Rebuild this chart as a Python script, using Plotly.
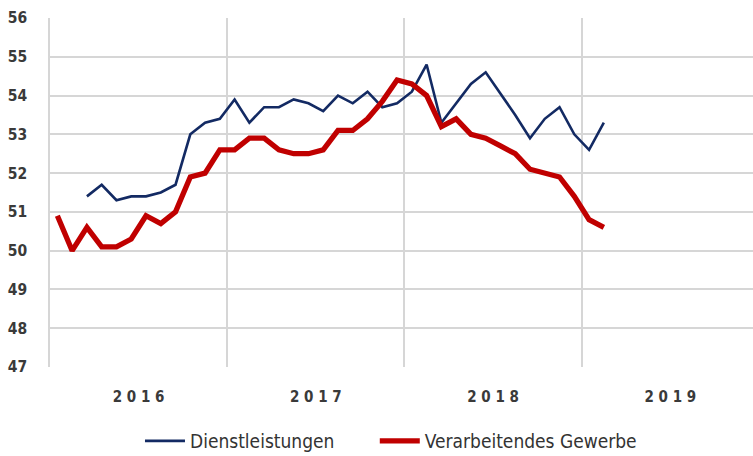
import plotly.graph_objects as go

# Monthly index positions Jan 2016 .. Dec 2019
months = [f"{y}-{m:02d}" for y in range(2016, 2020) for m in range(1, 13)]
years = ["2016", "2017", "2018", "2019"]
year_labels = ["2 0 1 6", "2 0 1 7", "2 0 1 8", "2 0 1 9"]

dienstleistungen = [None, None, 51.4, 51.7, 51.3, 51.4, 51.4, 51.5, 51.7, 53.0, 53.3, 53.4,
                    53.9, 53.3, 53.7, 53.7, 53.9, 53.8, 53.6, 54.0, 53.8, 54.1, 53.7, 53.8,
                    54.1, 54.8, 53.3, 53.8, 54.3, 54.6, 54.05, 53.5, 52.9, 53.4, 53.7, 53.0,
                    52.6, 53.3]
verarbeitendes = [50.9, 50.0, 50.6, 50.1, 50.1, 50.3, 50.9, 50.7, 51.0, 51.9, 52.0, 52.6,
                  52.6, 52.9, 52.9, 52.6, 52.5, 52.5, 52.6, 53.1, 53.1, 53.4, 53.85, 54.4,
                  54.3, 54.0, 53.2, 53.4, 53.0, 52.9, 52.7, 52.5, 52.1, 52.0, 51.9, 51.4,
                  50.8, 50.6]

x_idx = list(range(len(months)))
year_centers = [months.index(f"{y}-06") + 0.5 for y in years]
year_bounds = [months.index(f"{y}-01") - 0.5 for y in years]

fig = go.Figure()
fig.add_trace(go.Scatter(
    x=x_idx[:len(dienstleistungen)], y=dienstleistungen, mode="lines",
    name="Dienstleistungen", line=dict(color="#132a63", width=2.6),
    legend="legend",
))
fig.add_trace(go.Scatter(
    x=x_idx[:len(verarbeitendes)], y=verarbeitendes, mode="lines",
    name="Verarbeitendes Gewerbe", line=dict(color="#c00000", width=5.3),
    legend="legend2",
))

font_family = "DejaVu Sans Condensed, sans-serif"
legend_font = dict(size=19, color="#333333", family=font_family)

fig.update_layout(
    width=753, height=456,
    margin=dict(l=50, r=0, t=18, b=89, autoexpand=False),
    paper_bgcolor="white", plot_bgcolor="white",
    font=dict(family=font_family, color="#3a3a3a", size=16),
    showlegend=True,
    legend=dict(orientation="h", x=0.128, xanchor="left", y=-0.212, yanchor="middle",
                font=legend_font, itemwidth=40),
    legend2=dict(orientation="h", x=0.462, xanchor="left", y=-0.212, yanchor="middle",
                 font=legend_font, itemwidth=40),
    xaxis=dict(
        range=[-0.5, 47.1], automargin=False,
        tickmode="array", tickvals=year_centers, ticktext=year_labels,
        showgrid=False, zeroline=False,
        ticks="outside", ticklen=16, tickcolor="rgba(0,0,0,0)",
        tickfont=dict(size=15, family=font_family, color="#3a3a3a", weight="bold"),
        minor=dict(tickmode="array", tickvals=year_bounds, showgrid=True,
                   gridcolor="#d6d6d6", gridwidth=1.5, ticks=""),
        showline=False,
    ),
    yaxis=dict(
        range=[47, 56], dtick=1, tick0=47, automargin=False,
        showgrid=True, gridcolor="#d6d6d6", gridwidth=1.5,
        zeroline=False, showline=True, linecolor="#d6d6d6", linewidth=1.5,
        ticks="outside", ticklen=18, tickcolor="rgba(0,0,0,0)",
        tickfont=dict(size=15.5, family=font_family, color="#3a3a3a", weight="bold"),
    ),
)

fig.write_html(
    "out.html",
    config={"displayModeBar": False},
    post_script="document.body.style.margin='0';document.body.style.overflow='hidden';",
)
